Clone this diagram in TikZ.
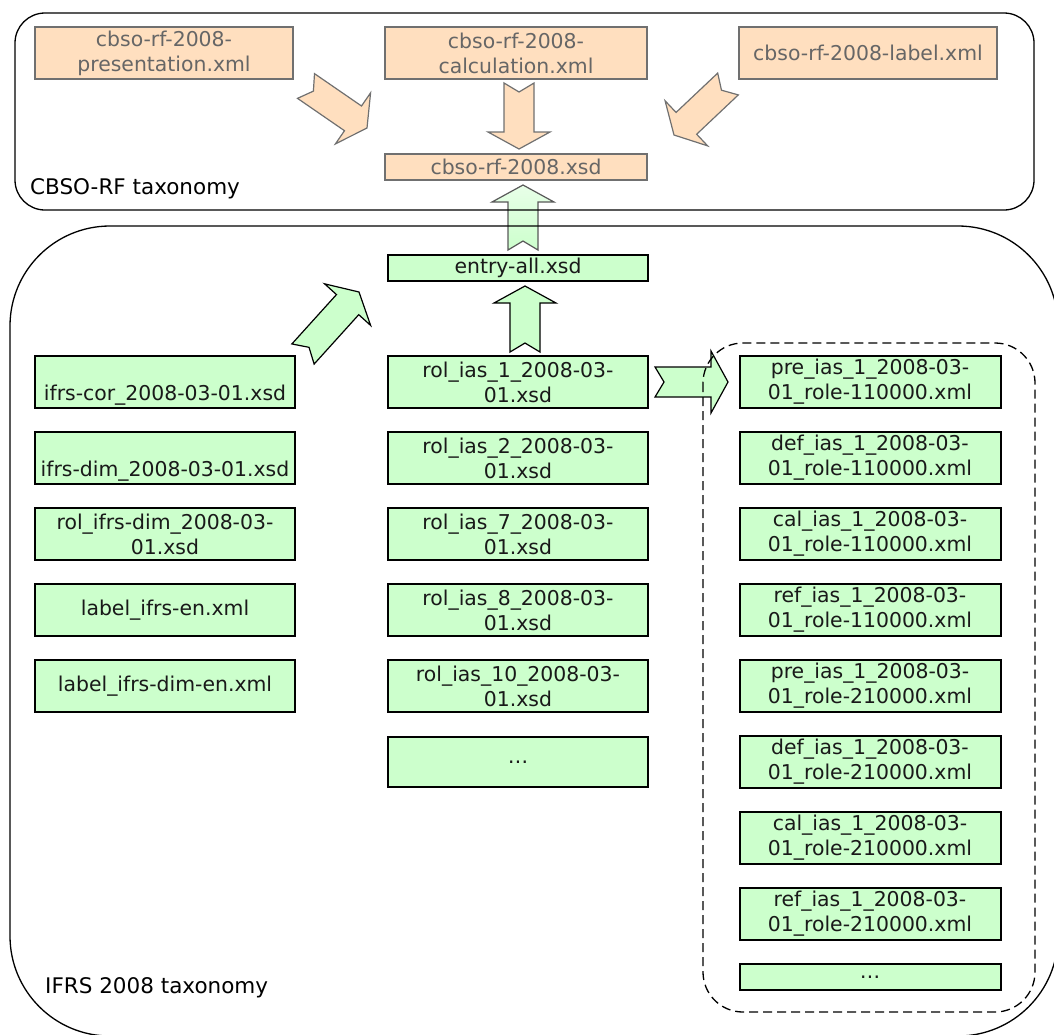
\documentclass[tikz,border=0pt]{standalone}
\usepackage{fontspec}
\setmainfont{DejaVu Sans}
\usetikzlibrary{calc}

\definecolor{filegreen}{HTML}{CCFFCC}
\definecolor{palegreen}{HTML}{E8FFE8}
\definecolor{filepeach}{HTML}{FFDFBF}
\definecolor{peachtext}{HTML}{666666}
\definecolor{peachline}{HTML}{707070}

\newcommand{\boxfont}{\fontsize{20.4}{25}\selectfont}
\newcommand{\namefont}{\fontsize{21.5}{26}\selectfont}
% fat arrow from #2 (tail) to #3 (tip)
\newcommand{\blockarrow}[3][]{%
  \coordinate (hb) at ($(#3)!17pt!(#2)$);
  \draw[#1] ($(#2)!15pt!90:(#3)$) -- ($(hb)!15pt!90:(#3)$) -- ($(hb)!31pt!90:(#3)$)
    -- (#3) -- ($(hb)!31pt!-90:(#3)$) -- ($(hb)!15pt!-90:(#3)$)
    -- ($(#2)!15pt!-90:(#3)$) -- ($(#2)!9pt!(#3)$) -- cycle;}

\begin{document}
\begin{tikzpicture}[x=1pt,y=-1pt,
  ifrsfile/.style={draw=black, line width=2pt, fill=filegreen, minimum width=260pt,
    minimum height=52pt, inner sep=0pt, align=center, font=\boxfont, text=black!90},
  cbsofile/.style={ifrsfile, draw=peachline, fill=filepeach, text=peachtext},
  flat/.style={minimum height=26pt},
  greenarrow/.style={draw=black, line width=1.2pt, fill=filegreen, line join=miter},
  peacharrow/.style={draw=peachline, line width=1.2pt, fill=filepeach, line join=miter},
  taxonomy/.style={draw=black, line width=1.3pt}]
\useasboundingbox (0,0) rectangle (1054,1034);
\clip (0,0) rectangle (1054,1034);

% CBSO-RF files
\node[cbsofile, minimum width=258pt] at (164,53) (pres) {cbso-rf-2008-\\presentation.xml};
\node[cbsofile, minimum width=262pt] at (516,53) (calc) {cbso-rf-2008-\\calculation.xml};
\node[cbsofile, minimum width=258pt] at (868,53) (lab) {cbso-rf-2008-label.xml};
\node[cbsofile, flat, minimum width=262pt] at (516,167) (xsd) {cbso-rf-2008.xsd};

% IFRS files
\node[ifrsfile, flat] at (518,268) (entry) {entry-all.xsd};

\node[ifrsfile] at (165,382) (cor) {\strut\\ifrs-cor\_2008-03-01.xsd};
\node[ifrsfile] at (165,458) (dim) {\strut\\ifrs-dim\_2008-03-01.xsd};
\node[ifrsfile] at (165,534) (roldim) {rol\_ifrs-dim\_2008-03-\\01.xsd};
\node[ifrsfile] at (165,610) (laben) {label\_ifrs-en.xml};
\node[ifrsfile] at (165,686) (labdim) {label\_ifrs-dim-en.xml};

\node[ifrsfile] at (518,382) (ias1) {rol\_ias\_1\_2008-03-\\01.xsd};
\node[ifrsfile] at (518,458) (ias2) {rol\_ias\_2\_2008-03-\\01.xsd};
\node[ifrsfile] at (518,534) (ias7) {rol\_ias\_7\_2008-03-\\01.xsd};
\node[ifrsfile] at (518,610) (ias8) {rol\_ias\_8\_2008-03-\\01.xsd};
\node[ifrsfile] at (518,686) (ias10) {rol\_ias\_10\_2008-03-\\01.xsd};
\node[ifrsfile, minimum height=50pt] at (518,762) (iasmore) {…};

\node[ifrsfile, minimum width=261pt] at (870,382) (pre1) {pre\_ias\_1\_2008-03-\\01\_role-110000.xml};
\node[ifrsfile, minimum width=261pt] at (870,458) (def1) {def\_ias\_1\_2008-03-\\01\_role-110000.xml};
\node[ifrsfile, minimum width=261pt] at (870,534) (cal1) {cal\_ias\_1\_2008-03-\\01\_role-110000.xml};
\node[ifrsfile, minimum width=261pt] at (870,610) (ref1) {ref\_ias\_1\_2008-03-\\01\_role-110000.xml};
\node[ifrsfile, minimum width=261pt] at (870,686) (pre2) {pre\_ias\_1\_2008-03-\\01\_role-210000.xml};
\node[ifrsfile, minimum width=261pt] at (870,762) (def2) {def\_ias\_1\_2008-03-\\01\_role-210000.xml};
\node[ifrsfile, minimum width=261pt] at (870,838) (cal2) {cal\_ias\_1\_2008-03-\\01\_role-210000.xml};
\node[ifrsfile, minimum width=261pt] at (870,914) (ref2) {ref\_ias\_1\_2008-03-\\01\_role-210000.xml};
\node[ifrsfile, flat, minimum width=261pt] at (870,977) (rolemore) {…};

% arrow ends
\coordinate (presT) at (306,86);   \coordinate (presH) at (367,128);
\coordinate (calcT) at (519,83);   \coordinate (calcH) at (519,149);
\coordinate (labT) at (728,84);    \coordinate (labH) at (674,135);
\coordinate (entryT) at (523,250); \coordinate (entryH) at (523,185);
\coordinate (ias1T) at (525,352);  \coordinate (ias1H) at (525,286);
\coordinate (corT) at (303,354);   \coordinate (corH) at (359,292);
\coordinate (roleT) at (655,382);  \coordinate (roleH) at (728,382);

\blockarrow[peacharrow]{presT}{presH}
\blockarrow[peacharrow]{calcT}{calcH}
\blockarrow[peacharrow]{labT}{labH}
\blockarrow[greenarrow, draw=black!65, top color=palegreen, bottom color=filegreen]{entryT}{entryH}
\blockarrow[greenarrow]{ias1T}{ias1H}
\blockarrow[greenarrow]{corT}{corH}
\blockarrow[greenarrow]{roleT}{roleH}

% taxonomy outlines
\draw[taxonomy, rounded corners=30pt] (15,13) rectangle (1034,210);
\draw[taxonomy, rounded corners=100pt] (10,226) rectangle (1058,1036);
\draw[taxonomy, dash pattern=on 9pt off 5pt, rounded corners=40pt] (703,343) rectangle (1035,1012);

\node[anchor=base west, inner sep=0pt, font=\namefont] at (30,194) (cbsoname) {CBSO-RF taxonomy};
\node[anchor=base west, inner sep=0pt, font=\namefont] at (45,993) (ifrsname) {IFRS 2008 taxonomy};
\end{tikzpicture}
\end{document}
